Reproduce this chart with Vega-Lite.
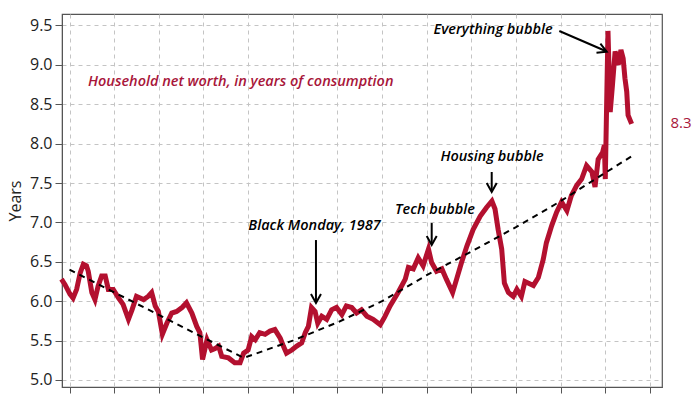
{
  "$schema": "https://vega.github.io/schema/vega-lite/v6.json",
  "width": 600,
  "height": 373,
  "autosize": {"type": "none"},
  "padding": {"left": 62, "top": 14, "right": 38, "bottom": 7},
  "background": "white",
  "config": {"view": {"stroke": "#555555", "strokeWidth": 1.2}, "font": "Open Sans"},
  "datasets": {
    "main": [
      {"year": 1959.1, "value": 6.28}, {"year": 1959.5, "value": 6.21}, {"year": 1960.05, "value": 6.09}, {"year": 1960.4, "value": 6.04},
      {"year": 1960.8, "value": 6.15}, {"year": 1961.2, "value": 6.36}, {"year": 1961.55, "value": 6.47}, {"year": 1961.9, "value": 6.45},
      {"year": 1962.1, "value": 6.38}, {"year": 1962.5, "value": 6.11}, {"year": 1962.85, "value": 6.02}, {"year": 1963.2, "value": 6.19},
      {"year": 1963.6, "value": 6.32}, {"year": 1964.0, "value": 6.32}, {"year": 1964.35, "value": 6.15}, {"year": 1964.9, "value": 6.15},
      {"year": 1965.5, "value": 6.04}, {"year": 1966.0, "value": 5.96}, {"year": 1966.6, "value": 5.77}, {"year": 1967.0, "value": 5.89},
      {"year": 1967.5, "value": 6.06}, {"year": 1968.3, "value": 6.02}, {"year": 1968.8, "value": 6.06}, {"year": 1969.2, "value": 6.11},
      {"year": 1969.6, "value": 5.94}, {"year": 1969.95, "value": 5.87}, {"year": 1970.4, "value": 5.58}, {"year": 1970.9, "value": 5.72},
      {"year": 1971.45, "value": 5.85}, {"year": 1972.0, "value": 5.87}, {"year": 1972.6, "value": 5.92}, {"year": 1973.1, "value": 5.98},
      {"year": 1973.7, "value": 5.85}, {"year": 1974.25, "value": 5.68}, {"year": 1974.6, "value": 5.6}, {"year": 1974.9, "value": 5.26},
      {"year": 1975.4, "value": 5.51}, {"year": 1975.9, "value": 5.38}, {"year": 1976.3, "value": 5.4}, {"year": 1976.7, "value": 5.43},
      {"year": 1977.05, "value": 5.3}, {"year": 1977.8, "value": 5.28}, {"year": 1978.5, "value": 5.22}, {"year": 1979.1, "value": 5.22},
      {"year": 1979.5, "value": 5.34}, {"year": 1980.0, "value": 5.38}, {"year": 1980.4, "value": 5.55}, {"year": 1980.8, "value": 5.51},
      {"year": 1981.3, "value": 5.6}, {"year": 1981.9, "value": 5.58}, {"year": 1982.45, "value": 5.62}, {"year": 1983.0, "value": 5.64},
      {"year": 1983.6, "value": 5.53}, {"year": 1983.95, "value": 5.43}, {"year": 1984.3, "value": 5.34}, {"year": 1984.9, "value": 5.38},
      {"year": 1985.45, "value": 5.43}, {"year": 1986.0, "value": 5.47}, {"year": 1986.4, "value": 5.6}, {"year": 1986.75, "value": 5.68},
      {"year": 1987.1, "value": 5.92}, {"year": 1987.5, "value": 5.87}, {"year": 1987.8, "value": 5.72}, {"year": 1988.25, "value": 5.81},
      {"year": 1988.8, "value": 5.77}, {"year": 1989.35, "value": 5.89}, {"year": 1989.9, "value": 5.92}, {"year": 1990.5, "value": 5.83},
      {"year": 1991.0, "value": 5.94}, {"year": 1991.6, "value": 5.92}, {"year": 1992.15, "value": 5.85}, {"year": 1992.7, "value": 5.89},
      {"year": 1993.3, "value": 5.81}, {"year": 1994.0, "value": 5.77}, {"year": 1994.8, "value": 5.7}, {"year": 1995.3, "value": 5.8},
      {"year": 1995.9, "value": 5.94}, {"year": 1996.8, "value": 6.11}, {"year": 1997.6, "value": 6.28}, {"year": 1997.95, "value": 6.43},
      {"year": 1998.5, "value": 6.41}, {"year": 1999.05, "value": 6.55}, {"year": 1999.6, "value": 6.45}, {"year": 2000.2, "value": 6.66},
      {"year": 2000.55, "value": 6.49}, {"year": 2001.1, "value": 6.38}, {"year": 2001.7, "value": 6.41}, {"year": 2002.2, "value": 6.28},
      {"year": 2002.9, "value": 6.11}, {"year": 2003.35, "value": 6.28}, {"year": 2003.9, "value": 6.49}, {"year": 2004.5, "value": 6.7},
      {"year": 2005.2, "value": 6.91}, {"year": 2006.0, "value": 7.08}, {"year": 2006.7, "value": 7.19}, {"year": 2007.3, "value": 7.27},
      {"year": 2007.65, "value": 7.17}, {"year": 2008.0, "value": 6.91}, {"year": 2008.4, "value": 6.66}, {"year": 2008.7, "value": 6.23},
      {"year": 2009.15, "value": 6.11}, {"year": 2009.7, "value": 6.06}, {"year": 2010.1, "value": 6.15}, {"year": 2010.6, "value": 6.06},
      {"year": 2011.0, "value": 6.25}, {"year": 2011.95, "value": 6.2}, {"year": 2012.5, "value": 6.3}, {"year": 2013.05, "value": 6.53},
      {"year": 2013.4, "value": 6.74}, {"year": 2014.0, "value": 6.96}, {"year": 2014.55, "value": 7.13}, {"year": 2015.1, "value": 7.26},
      {"year": 2015.7, "value": 7.15}, {"year": 2016.2, "value": 7.34}, {"year": 2016.8, "value": 7.47}, {"year": 2017.35, "value": 7.55},
      {"year": 2017.9, "value": 7.72}, {"year": 2018.5, "value": 7.64}, {"year": 2018.85, "value": 7.45}, {"year": 2019.2, "value": 7.8},
      {"year": 2019.7, "value": 7.89}, {"year": 2019.9, "value": 7.98}, {"year": 2020.0, "value": 7.55}, {"year": 2020.3, "value": 9.43},
      {"year": 2020.55, "value": 8.4}, {"year": 2020.8, "value": 8.74}, {"year": 2021.1, "value": 9.17}, {"year": 2021.45, "value": 9.0},
      {"year": 2021.75, "value": 9.19}, {"year": 2022.0, "value": 9.08}, {"year": 2022.2, "value": 8.83}, {"year": 2022.4, "value": 8.66},
      {"year": 2022.55, "value": 8.36}, {"year": 2022.95, "value": 8.25}
    ],
    "trend": [
      {"year": 1960.0, "value": 6.4}, {"year": 1979.5, "value": 5.28}, {"year": 1985.0, "value": 5.5}, {"year": 1990.0, "value": 5.73},
      {"year": 1995.0, "value": 6.0}, {"year": 2000.0, "value": 6.33}, {"year": 2005.0, "value": 6.63}, {"year": 2010.0, "value": 6.94},
      {"year": 2015.0, "value": 7.27}, {"year": 2020.0, "value": 7.63}, {"year": 2023.1, "value": 7.85}
    ],
    "arrows": [
      {"year": 1987.6, "value": 6.776, "year2": 1987.6, "value2": 5.99},
      {"year": 2000.56, "value": 6.992, "year2": 2000.56, "value2": 6.725},
      {"year": 2007.28, "value": 7.64, "year2": 2007.28, "value2": 7.4},
      {"year": 2014.85, "value": 9.429, "year2": 2020.1, "value2": 9.172}
    ],
    "heads": [
      {"year": 1987.6, "value": 5.977, "angle": 0},
      {"year": 2000.56, "value": 6.713, "angle": 0},
      {"year": 2007.28, "value": 7.386, "angle": 0},
      {"year": 2020.16, "value": 9.166, "angle": 293}
    ],
    "notes": [
      {"year": 2007.43, "value": 9.441, "label": "Everything bubble"},
      {"year": 1987.44, "value": 6.954, "label": "Black Monday, 1987"},
      {"year": 2000.93, "value": 7.157, "label": "Tech bubble"},
      {"year": 2007.31, "value": 7.83, "label": "Housing bubble"}
    ],
    "title": [{"year": 1962.07, "value": 8.782, "label": "Household net worth, in years of consumption"}],
    "last": [{"year": 2028.48, "value": 8.261, "label": "8.3"}]
  },
  "layer": [
    {
      "data": {"name": "main"},
      "mark": {"type": "line", "color": "#b3102f", "strokeWidth": 5, "strokeJoin": "miter"},
      "encoding": {
        "x": {
          "field": "year", "type": "quantitative",
          "scale": {"domain": [1959.16, 2026.35], "nice": false, "zero": false},
          "axis": {
            "values": [1960, 1965, 1970, 1975, 1980, 1985, 1990, 1995, 2000, 2005, 2010, 2015, 2020, 2025],
            "labels": false, "title": null, "grid": true, "gridColor": "#c4c4c4", "gridDash": [4, 4],
            "tickSize": 6, "tickColor": "#555555", "domainColor": "#555555"
          }
        },
        "y": {
          "field": "value", "type": "quantitative",
          "scale": {"domain": [4.911, 9.645], "nice": false, "zero": false},
          "axis": {
            "values": [5, 5.5, 6, 6.5, 7, 7.5, 8, 8.5, 9, 9.5], "format": ".1f",
            "title": "Years", "titleFontSize": 16, "titleFontWeight": "normal", "titleColor": "#222222", "titlePadding": 6,
            "labelFontSize": 16, "labelColor": "#222222", "labelPadding": 3,
            "grid": true, "gridColor": "#c4c4c4", "gridDash": [4, 4],
            "tickSize": 7, "tickColor": "#555555", "domainColor": "#555555"
          }
        }
      }
    },
    {
      "data": {"name": "trend"},
      "mark": {"type": "line", "color": "black", "strokeWidth": 2, "strokeDash": [6, 5]},
      "encoding": {
        "x": {"field": "year", "type": "quantitative"},
        "y": {"field": "value", "type": "quantitative"}
      }
    },
    {
      "data": {"name": "arrows"},
      "mark": {"type": "rule", "color": "black", "strokeWidth": 2},
      "encoding": {
        "x": {"field": "year", "type": "quantitative"},
        "y": {"field": "value", "type": "quantitative"},
        "x2": {"field": "year2"},
        "y2": {"field": "value2"}
      }
    },
    {
      "data": {"name": "heads"},
      "mark": {"type": "point", "shape": "M-1,-1.8L0,0L1,-1.8", "filled": false, "size": 100, "strokeWidth": 2, "color": "black", "opacity": 1},
      "encoding": {
        "x": {"field": "year", "type": "quantitative"},
        "y": {"field": "value", "type": "quantitative"},
        "angle": {"field": "angle", "type": "quantitative", "scale": null}
      }
    },
    {
      "data": {"name": "notes"},
      "mark": {"type": "text", "font": "Open Sans", "fontSize": 14.5, "fontStyle": "italic", "fontWeight": 600, "color": "black", "align": "center", "baseline": "middle"},
      "encoding": {
        "x": {"field": "year", "type": "quantitative"},
        "y": {"field": "value", "type": "quantitative"},
        "text": {"field": "label"}
      }
    },
    {
      "data": {"name": "title"},
      "mark": {"type": "text", "font": "Open Sans", "fontSize": 14.5, "fontStyle": "italic", "fontWeight": 600, "color": "#a8163a", "align": "left", "baseline": "middle"},
      "encoding": {
        "x": {"field": "year", "type": "quantitative"},
        "y": {"field": "value", "type": "quantitative"},
        "text": {"field": "label"}
      }
    },
    {
      "data": {"name": "last"},
      "mark": {"type": "text", "font": "Open Sans", "fontSize": 15, "color": "#a8163a", "align": "center", "baseline": "middle"},
      "encoding": {
        "x": {"field": "year", "type": "quantitative"},
        "y": {"field": "value", "type": "quantitative"},
        "text": {"field": "label"}
      }
    }
  ]
}
